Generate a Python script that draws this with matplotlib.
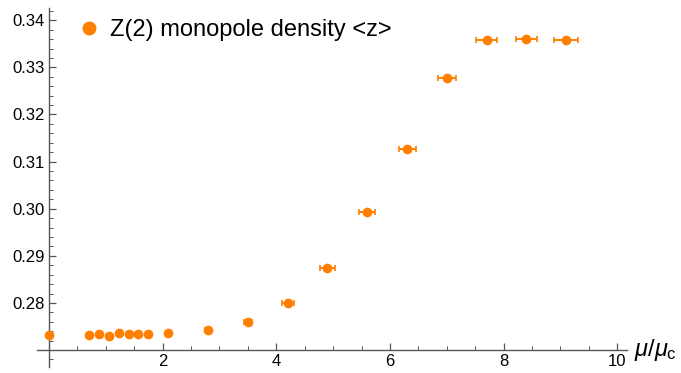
import matplotlib
matplotlib.use("Agg")
import matplotlib.pyplot as plt
from matplotlib.ticker import MultipleLocator, FixedLocator
from matplotlib.lines import Line2D

plt.rcParams['font.family'] = ['Liberation Sans', 'DejaVu Sans']
plt.rcParams['mathtext.fontset'] = 'custom'
plt.rcParams['mathtext.rm'] = 'Liberation Sans'
plt.rcParams['mathtext.it'] = 'Liberation Sans:italic'

# mu / mu_c
mu = [0.0, 0.7, 0.875, 1.05, 1.225, 1.4, 1.575, 1.75, 2.1, 2.8, 3.5,
      4.2, 4.9, 5.6, 6.3, 7.0, 7.7, 8.4, 9.1]
# Z(2) monopole density <z>
z = [0.2732, 0.2732, 0.2734, 0.2730, 0.2736, 0.2734, 0.2734, 0.2734,
     0.2737, 0.2742, 0.2760, 0.2799, 0.2874, 0.2993, 0.3126, 0.3278,
     0.3358, 0.3361, 0.3358]
mu_err = [0.0, 0.014, 0.018, 0.021, 0.025, 0.028, 0.032, 0.035, 0.042,
          0.056, 0.075, 0.105, 0.13, 0.14, 0.15, 0.16, 0.18, 0.19, 0.21]
z_err = [0.0002, 0.0002, 0.0002, 0.0002, 0.0002, 0.0002, 0.0002, 0.0002,
         0.0002, 0.0002, 0.0002, 0.0002, 0.0003, 0.0003, 0.0002, 0.0002,
         0.0002, 0.0002, 0.0002]

orange = '#ff8000'

fig = plt.figure(figsize=(6.81, 3.73), dpi=100)
ax = fig.add_axes([37 / 681, 6 / 373, 590 / 681, 359 / 373])

ax.errorbar(mu, z, xerr=mu_err, yerr=z_err, fmt='o', color=orange,
            markersize=6, elinewidth=1.4, capsize=2.5, capthick=1.2,
            clip_on=False, zorder=3)

ax.set_xlim(-0.21, 10.17)
ax.set_ylim(0.2664, 0.3426)

for s in ['top', 'right']:
    ax.spines[s].set_visible(False)
ax.spines['left'].set_position(('data', 0))
ax.spines['bottom'].set_position(('data', 0.27))
for s in ['left', 'bottom']:
    ax.spines[s].set_color('#555555')
    ax.spines[s].set_linewidth(1.0)

ax.xaxis.set_major_locator(FixedLocator([2, 4, 6, 8, 10]))
ax.xaxis.set_minor_locator(MultipleLocator(0.5))
ax.yaxis.set_major_locator(MultipleLocator(0.01))
ax.yaxis.set_minor_locator(MultipleLocator(0.002))
ax.yaxis.set_major_formatter(matplotlib.ticker.FormatStrFormatter('%.2f'))
ax.set_yticks([0.28, 0.29, 0.30, 0.31, 0.32, 0.33, 0.34])

ax.tick_params(axis='both', which='major', direction='in', length=5,
               width=0.9, color='#555555', labelsize=12, pad=3)
ax.tick_params(axis='both', which='minor', direction='in', length=3,
               width=0.7, color='#555555')

ax.text(10.3, 0.27, r'$\mu/\mu_\mathrm{c}$', fontsize=17,
        ha='left', va='center')

handle = Line2D([], [], marker='o', color=orange, linestyle='none',
                markersize=9)
ax.legend([handle], ['Z(2) monopole density <z>'], loc='upper left',
          bbox_to_anchor=(0.044, 1.008), frameon=False, fontsize=17,
          handlelength=1.0, handletextpad=0.4, borderaxespad=0.2)

fig.savefig('out.png', dpi=100)
